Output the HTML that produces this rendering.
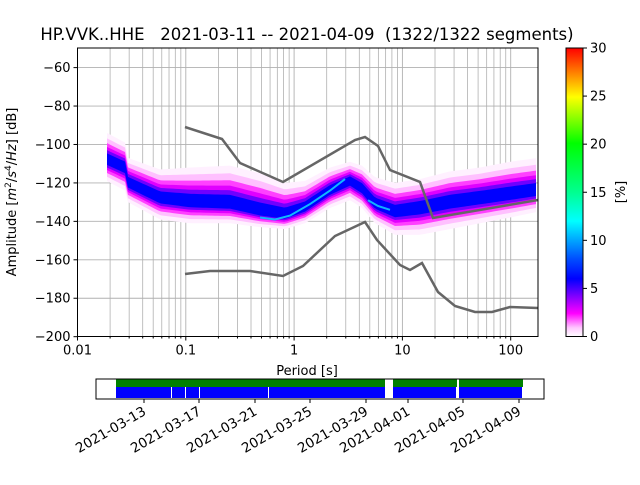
<!DOCTYPE html>
<html><head><meta charset="utf-8">
<style>
body{margin:0;background:#fff;}
svg text{font-family:"DejaVu Sans","Liberation Sans",sans-serif;fill:#000;}
</style></head><body>
<svg id="s" width="640" height="480" xmlns="http://www.w3.org/2000/svg">
<defs>
<linearGradient id="cb" x1="0" y1="1" x2="0" y2="0">
<stop offset="0" stop-color="#ffffff"/>
<stop offset="0.03" stop-color="#ffc8ff"/>
<stop offset="0.08" stop-color="#ff00ff"/>
<stop offset="0.14" stop-color="#8000ff"/>
<stop offset="0.2" stop-color="#0000ff"/>
<stop offset="0.27" stop-color="#0050ff"/>
<stop offset="0.4" stop-color="#00ffff"/>
<stop offset="0.5" stop-color="#00ff90"/>
<stop offset="0.67" stop-color="#00ff00"/>
<stop offset="0.83" stop-color="#ffff00"/>
<stop offset="1" stop-color="#ff0000"/>
</linearGradient>
</defs>
<g id="grid"></g>
<g id="band"></g>
<g id="curves"></g>
<g id="axes"></g>
</svg>
<script>
var NS="http://www.w3.org/2000/svg";
function el(p,t,a,txt){var e=document.createElementNS(NS,t);for(var k in a)e.setAttribute(k,a[k]);if(txt!==undefined)e.textContent=txt;document.getElementById(p).appendChild(e);return e;}
var X0=77.5,X1=538,Y0=48,Y1=336.5;
function px(p){return X0+(Math.log10(p)+2)*108.3;}
function py(db){return 67.6+(-60-db)*1.922;}
for(var d=-2;d<=2;d++){for(var m=1;m<10;m++){var x=px(m*Math.pow(10,d));if(x>X0+0.5&&x<X1)el("grid","line",{x1:x,x2:x,y1:Y0,y2:Y1,stroke:"#b0b0b0","stroke-width":m==1?0.9:0.8});}}
for(var db=-60;db>=-180;db-=20){el("grid","line",{x1:X0,x2:X1,y1:py(db),y2:py(db),stroke:"#b0b0b0","stroke-width":0.9});}
var pts=[[107,-108,14,11],[125,-112,13,12],[128,-120,13,10],[160,-128,15,11],[190,-130,18,11],[230,-131,20,10],[260,-135,20,8],[285,-137,17,7],[305,-133,14,8],[330,-124,12,9],[350,-119,10,10],[362,-123,12,10],[375,-131,14,10],[395,-135,15,12],[420,-133,15,14],[450,-130,16,14],[480,-128,16,13],[510,-126,17,12],[538,-124,17,11]];
function interp(x){for(var i=0;i<pts.length-1;i++){if(x<=pts[i+1][0]){var a=pts[i],b=pts[i+1],t=(x-a[0])/(b[0]-a[0]);return [a[1]+t*(b[1]-a[1]),a[2]+t*(b[2]-a[2]),a[3]+t*(b[3]-a[3])];}}var l=pts[pts.length-1];return [l[1],l[2],l[3]];}
var layers=[[1.0,"#fff0ff"],[0.8,"#ffc0ff"],[0.62,"#ff40ff"],[0.48,"#e000ff"],[0.36,"#7000ff"],[0.24,"#0000ff"]];
layers.forEach(function(L){var up=[],lo=[];for(var x=107;x<=538;x+=3){var c=interp(x);up.push(x+","+py(c[0]+c[1]*L[0]));lo.unshift(x+","+py(c[0]-c[2]*L[0]));}
el("band","polygon",{points:up.concat(lo).join(" "),fill:L[1]});});
el("band","polyline",{points:[[260,-138],[275,-139],[290,-137],[310,-131],[330,-124],[345,-118]].map(function(p){return p[0]+","+py(p[1]);}).join(" "),fill:"none",stroke:"#10b8ff","stroke-width":2});
el("band","polyline",{points:[[368,-129],[378,-132],[390,-134]].map(function(p){return p[0]+","+py(p[1]);}).join(" "),fill:"none",stroke:"#10b0ff","stroke-width":2});
var hn="185,127 222,139 240,163 283,182 355,140 365,137 378,146 390,170 420,182 433,218 538,200";
var ln="185,274 210,271 250,271 283,276 303,266 335,236 365,222 377,240 400,265 410,270 422,263 438,292 455,306 475,312 492,312 510,307 538,308";
el("curves","polyline",{points:hn,fill:"none",stroke:"#666","stroke-width":2.5});
el("curves","polyline",{points:ln,fill:"none",stroke:"#666","stroke-width":2.5});
el("axes","rect",{x:X0,y:Y0,width:X1-X0,height:Y1-Y0,fill:"none",stroke:"#000","stroke-width":1});
var xl=["0.01","0.1","1","10","100"];
for(var d=-2;d<=2;d++){var x=px(Math.pow(10,d));el("axes","line",{x1:x,x2:x,y1:Y1,y2:Y1+4,stroke:"#000"});el("axes","text",{x:x,y:Y1+18,"text-anchor":"middle","font-size":"13"},xl[d+2]);
for(var m=2;m<10;m++){var xm=px(m*Math.pow(10,d));if(xm<X1)el("axes","line",{x1:xm,x2:xm,y1:Y1,y2:Y1+2,stroke:"#000"});}}
for(var db=-60;db>=-200;db-=20){var y=py(db);el("axes","line",{x1:X0-4,x2:X0,y1:y,y2:y,stroke:"#000"});el("axes","text",{x:X0-7,y:y+4.5,"text-anchor":"end","font-size":"13"},"\u2212"+(-db));}
el("axes","text",{x:307,y:375,"text-anchor":"middle","font-size":"13"},"Period [s]");
var yl=el("axes","text",{x:0,y:0,"text-anchor":"middle","font-size":"13",transform:"translate(16,192) rotate(-90)"});
yl.innerHTML='Amplitude [<tspan font-style="italic">m</tspan><tspan font-size="9" dy="-5">2</tspan><tspan dy="5">/</tspan><tspan font-style="italic">s</tspan><tspan font-size="9" dy="-5">4</tspan><tspan dy="5">/</tspan><tspan font-style="italic">Hz</tspan>] [dB]';
el("axes","text",{x:307,y:40,"text-anchor":"middle","font-size":"16.5",style:"white-space:pre"},"HP.VVK..HHE   2021-03-11 -- 2021-04-09  (1322/1322 segments)");
el("axes","rect",{x:566,y:Y0,width:17,height:Y1-Y0,fill:"url(#cb)",stroke:"#000","stroke-width":1});
for(var v=0;v<=30;v+=5){var y=Y1-(Y1-Y0)*v/30;el("axes","line",{x1:583,x2:587,y1:y,y2:y,stroke:"#000"});el("axes","text",{x:590,y:y+4.5,"font-size":"13"},""+v);}
el("axes","text",{x:0,y:0,"text-anchor":"middle","font-size":"13",transform:"translate(625,192) rotate(-90)"},"[%]");
el("axes","rect",{x:96,y:379,width:448,height:20,fill:"#fff",stroke:"#000","stroke-width":1});
[[116,385],[393,457],[459,523]].forEach(function(s){el("axes","rect",{x:s[0],y:379.5,width:s[1]-s[0],height:7.5,fill:"#008000"});});
[[116,385],[393,456],[459,522]].forEach(function(s){el("axes","rect",{x:s[0],y:387,width:s[1]-s[0],height:11,fill:"#0000ff"});});
[171,185,199,268].forEach(function(x){el("axes","rect",{x:x,y:387,width:1,height:11,fill:"#fff"});});
var tl=[[144,"2021-03-13"],[199,"2021-03-17"],[255,"2021-03-21"],[310,"2021-03-25"],[366,"2021-03-29"],[408,"2021-04-01"],[463,"2021-04-05"],[519,"2021-04-09"]];
tl.forEach(function(t){el("axes","line",{x1:t[0],x2:t[0],y1:399,y2:403,stroke:"#000"});el("axes","text",{x:0,y:0,"text-anchor":"end","font-size":"13.5",transform:"translate("+(t[0]+3)+",414) rotate(-30)"},t[1]);});
</script>
</body></html>
